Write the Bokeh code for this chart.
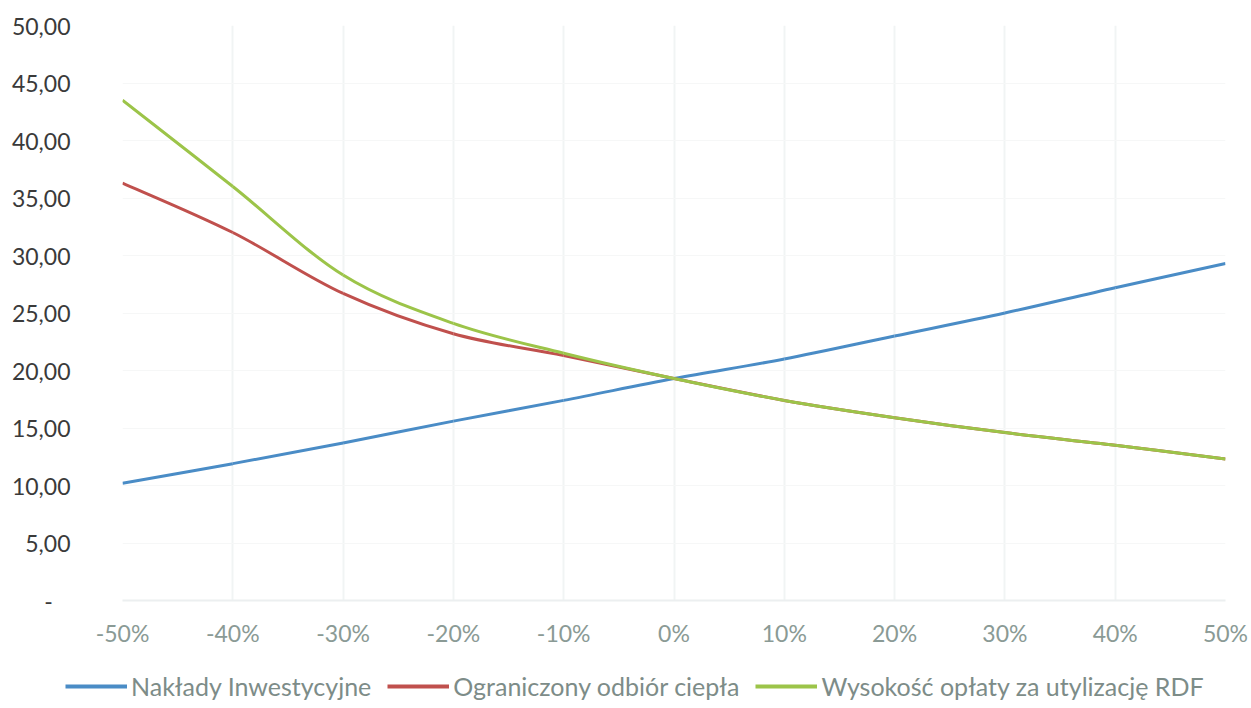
from bokeh.plotting import figure
from bokeh.layouts import column
from bokeh.models import (Range1d, FixedTicker, CustomJSTickFormatter, Legend, LegendItem)
from bokeh.embed import file_html
from bokeh.resources import INLINE

# Sensitivity of the result to a change of each parameter
changes = [-50, -40, -30, -20, -10, 0, 10, 20, 30, 40, 50]
naklady = [10.2, 11.9, 13.7, 15.6, 17.4, 19.3, 21.0, 23.0, 25.0, 27.2, 29.3]
odbior = [36.3, 32.0, 26.7, 23.2, 21.3, 19.3, 17.4, 15.9, 14.6, 13.5, 12.3]
oplata = [43.5, 36.0, 28.3, 24.1, 21.5, 19.3, 17.4, 15.9, 14.6, 13.5, 12.3]

series_names = ["Nakłady Inwestycyjne", "Ograniczony odbiór ciepła",
                "Wysokość opłaty za utylizację RDF"]
colors = ["#4a8cc6", "#c0504d", "#9cc449"]

x_ticks = changes
y_ticks = [0, 5, 10, 15, 20, 25, 30, 35, 40, 45, 50]

FONT = "Lato"


def smooth_segments(xs, ys, k=1.0 / 6.0):
    """Cardinal-spline Bezier segments through the points (smoothed line)."""
    n = len(xs)
    x0, y0, x1, y1, cx0, cy0, cx1, cy1 = ([] for _ in range(8))
    for i in range(n - 1):
        im, ip2 = max(i - 1, 0), min(i + 2, n - 1)
        x0.append(xs[i]); y0.append(ys[i])
        x1.append(xs[i + 1]); y1.append(ys[i + 1])
        cx0.append(xs[i] + (xs[i + 1] - xs[im]) * k)
        cy0.append(ys[i] + (ys[i + 1] - ys[im]) * k)
        cx1.append(xs[i + 1] - (xs[ip2] - xs[i]) * k)
        cy1.append(ys[i + 1] - (ys[ip2] - ys[i]) * k)
    return dict(x0=x0, y0=y0, x1=x1, y1=y1, cx0=cx0, cy0=cy0, cx1=cx1, cy1=cy1)


p = figure(width=1251, height=650, output_backend="svg", toolbar_location=None,
           x_range=Range1d(-50, 50), y_range=Range1d(0, 50),
           min_border_left=122, min_border_right=26, min_border_top=25,
           min_border_bottom=50)
p.frame_align = False
p.outline_line_color = None
p.background_fill_color = "white"
p.border_fill_color = "white"

# axes
p.xaxis.ticker = FixedTicker(ticks=x_ticks)
p.xaxis.formatter = CustomJSTickFormatter(code="return tick + '%';")
p.xaxis.major_tick_line_color = None
p.xaxis.minor_tick_line_color = None
p.xaxis.axis_line_color = "#eceff0"
p.xaxis.axis_line_width = 2
p.xaxis.major_label_text_font = FONT
p.xaxis.major_label_text_font_size = "23px"
p.xaxis.major_label_text_color = "#8a9a95"
p.xaxis.major_label_standoff = 12

p.yaxis.ticker = FixedTicker(ticks=y_ticks)
p.yaxis.formatter = CustomJSTickFormatter(
    code="if (tick == 0) { return '-' + '\\u00a0'.repeat(3); } "
         "return tick.toFixed(2).replace('.', ',');")
p.yaxis.major_tick_line_color = None
p.yaxis.minor_tick_line_color = None
p.yaxis.axis_line_color = None
p.yaxis.major_label_text_font = FONT
p.yaxis.major_label_text_font_size = "23px"
p.yaxis.major_label_text_color = "#3a3a3a"
p.yaxis.major_label_standoff = 46

p.xgrid.ticker = FixedTicker(ticks=x_ticks)
p.ygrid.ticker = FixedTicker(ticks=y_ticks)
p.xgrid.grid_line_color = "#f1f4f4"
p.ygrid.grid_line_color = "#f6f7f7"
p.xgrid.grid_line_width = 2
p.ygrid.grid_line_width = 1

for vals, c in zip([naklady, odbior, oplata], colors):
    seg = smooth_segments(changes, vals)
    p.bezier(line_color=c, line_width=3, **seg)

# legend strip under the chart (its line renderers lie outside the visible range)
leg = figure(width=1251, height=58, output_backend="svg", toolbar_location=None,
             x_range=Range1d(0, 1), y_range=Range1d(0, 1),
             min_border=0, x_axis_type=None, y_axis_type=None)
leg.frame_align = False
leg.outline_line_color = None
leg.xgrid.visible = False
leg.ygrid.visible = False
leg_renderers = [leg.line(x=[5, 6], y=[5, 6], line_color=c, line_width=4)
                 for c in colors]

legend = Legend(items=[LegendItem(label=n, renderers=[r])
                       for n, r in zip(series_names, leg_renderers)],
                orientation="horizontal", location=(65, 7),
                label_text_font=FONT, label_text_font_size="25px",
                label_text_color="#7d8c88", glyph_width=62, glyph_height=20,
                label_standoff=4, spacing=16, border_line_color=None,
                background_fill_alpha=0, padding=0, margin=0)
leg.add_layout(legend, "center")

open("out.html", "w").write(file_html(column(p, leg, spacing=0), INLINE))
